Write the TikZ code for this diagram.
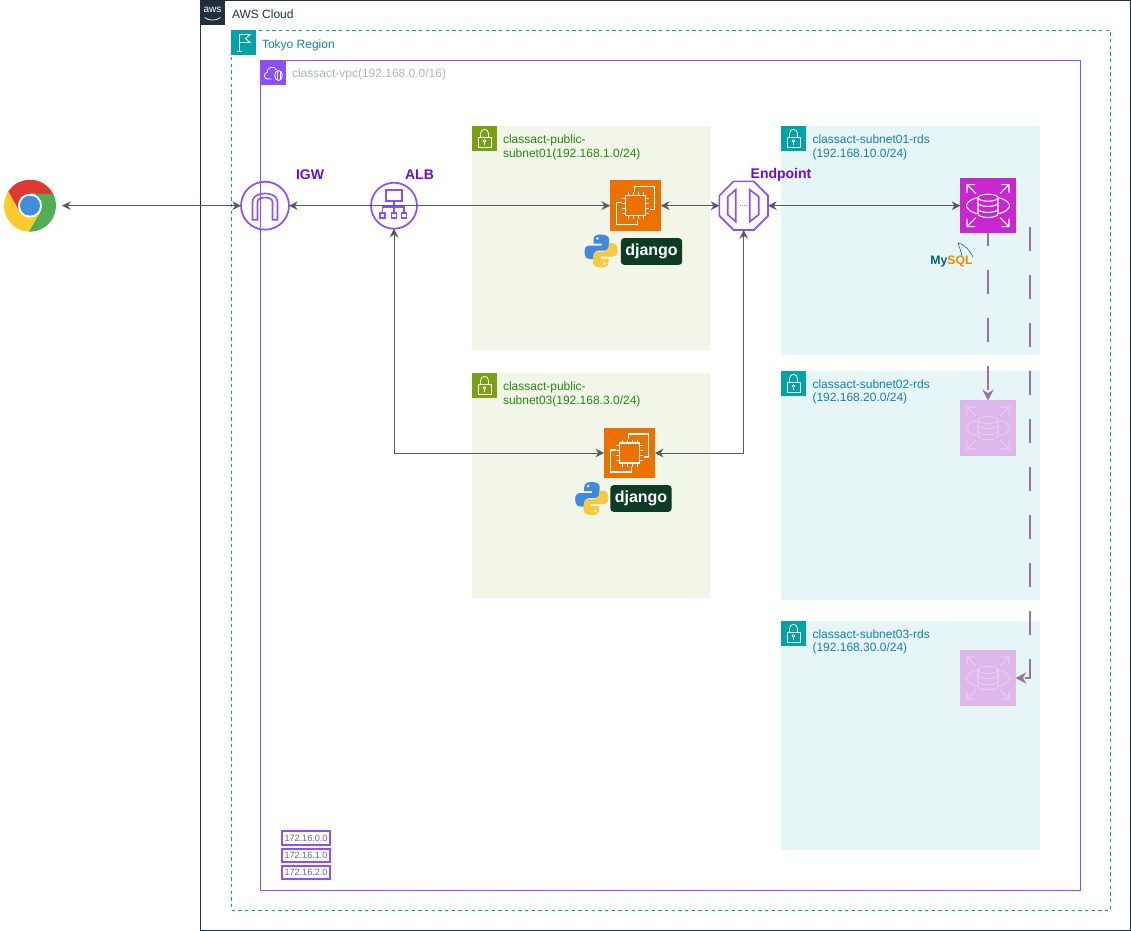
\documentclass[tikz,border=0pt]{standalone}
\usepackage{fontspec}
\setmainfont{Liberation Sans}
\usetikzlibrary{arrows.meta, shapes.geometric}

\definecolor{cloudink}{HTML}{232F3E}
\definecolor{regionteal}{HTML}{00A4A6}
\definecolor{regiontext}{HTML}{147EBA}
\definecolor{vpcpurple}{HTML}{8C4FFF}
\definecolor{vpctext}{HTML}{AAB7B8}
\definecolor{pubgreen}{HTML}{7AA116}
\definecolor{pubfill}{HTML}{F2F6E8}
\definecolor{pubtext}{HTML}{248814}
\definecolor{privfill}{HTML}{E6F6F7}
\definecolor{ecorange}{HTML}{ED7100}
\definecolor{rdspink}{HTML}{C925D1}
\definecolor{labelpurple}{HTML}{6A0DD6}
\definecolor{linkgray}{HTML}{545B64}
\definecolor{replpurple}{HTML}{9673A6}
\definecolor{djangogreen}{HTML}{0C3C26}
\definecolor{routetext}{HTML}{5F6A8A}
\definecolor{pyblue}{HTML}{3F8AE0}
\definecolor{pyyellow}{HTML}{F7C93E}
\definecolor{chromered}{HTML}{DB3A32}
\definecolor{chromegreen}{HTML}{52AE52}
\definecolor{chromeyellow}{HTML}{FBCB2E}
\definecolor{chromeblue}{HTML}{3F8FDB}
\definecolor{mysqlblue}{HTML}{00618A}
\definecolor{mysqlorange}{HTML}{E48E00}

\tikzset{
    plain/.style = {inner sep = 0pt, outer sep = 0pt},
    smalltext/.style = {plain, anchor = north west, align = left, font = \fontsize{9pt}{10.3pt}\selectfont},
    namelabel/.style = {plain, text = labelpurple, font = \fontsize{10.5pt}{12pt}\selectfont\bfseries},
    iconbox/.style = {plain, minimum size = 18.75pt},
    ecbox/.style = {plain, fill = ecorange, minimum size = 38pt},
    rdsbox/.style = {plain, fill = rdspink, minimum size = 41.5pt},
    subnetpub/.style = {fill = pubfill, draw = none},
    subnetpriv/.style = {fill = privfill, draw = none},
    roundicon/.style = {plain, circle, draw = vpcpurple, line width = 1.3pt},
    djangobox/.style = {plain, fill = djangogreen, rounded corners = 2.5pt, text = white, minimum width = 46pt, minimum height = 20pt, font = \fontsize{12pt}{12pt}\selectfont\bfseries},
    routebox/.style = {plain, draw = vpcpurple, line width = 1.4pt, text = routetext, minimum width = 36.5pt, minimum height = 10pt, font = \fontsize{6.8pt}{7pt}\selectfont},
    link/.style = {{Stealth[length = 6.5pt, width = 6.5pt]}-{Stealth[length = 6.5pt, width = 6.5pt]}, draw = linkgray, line width = 0.75pt},
    repl/.style = {-{Stealth[length = 8pt, width = 8.5pt]}, draw = replpurple, line width = 1.1pt, dash pattern = on 18pt off 18pt},
    % Icons, drawn around their centre
    lockicon/.pic = {
        \draw [white, line width = 0.6pt] (-6.5,-1.5) rectangle (6.5,8.5);
        \draw [white, line width = 0.6pt] (-4,-1.5) -- (-4,-5) .. controls (-4,-10.5) and (4,-10.5) .. (4,-5) -- (4,-1.5);
        \draw [white, line width = 0.5pt] (0,2.5) circle [radius = 1.4] (0,4) -- (0,6.5);
    },
    flagicon/.pic = {
        \draw [white, line width = 0.7pt] (-4.5,-8) -- (-4.5,9) (-7,9) -- (-2,9);
        \draw [white, line width = 0.7pt] (-4.5,-8) -- (6.5,-8) -- (2,-4) -- (6.5,0) -- (-4.5,0);
    },
    vpcicon/.pic = {
        \draw [white, line width = 0.6pt] (-2,6) -- (-6,6) .. controls (-10,6) and (-10,0) .. (-6.5,-0.5) .. controls (-6.5,-6) and (1,-8) .. (3,-3);
        \draw [white, line width = 0.6pt] (5,2.5) ellipse [x radius = 3.8, y radius = 5];
        \draw [white, line width = 0.5pt] (3.5,-2) -- (3.5,7) (6.5,-2) -- (6.5,7);
    },
    awsicon/.pic = {
        \node [plain, text = white, font = \fontsize{7.5pt}{7.5pt}\selectfont] (awsWord) at (0,-3) {aws};
        \draw [white, line width = 0.5pt] (-8,5) .. controls (-4,8.5) and (4,8.5) .. (8,5);
    },
    igwicon/.pic = {
        \draw [vpcpurple, line width = 1.2pt] (-12.5,14) -- (-12.5,-4) .. controls (-12.5,-15) and (12.5,-15) .. (12.5,-4) -- (12.5,14) -- (7.5,14) -- (7.5,-4) .. controls (7.5,-9.5) and (-7.5,-9.5) .. (-7.5,-4) -- (-7.5,14) -- cycle;
    },
    albicon/.pic = {
        \draw [vpcpurple, line width = 1.2pt] (-8,-16) rectangle (8,-5);
        \draw [vpcpurple, line width = 1.2pt] (0,-5) -- (0,7) (-11.5,7) -- (-11.5,1) -- (10,1) -- (10,7);
        \draw [vpcpurple, line width = 1.2pt] (-14,7) rectangle (-9,12.5) (-2.5,7) rectangle (2.5,12.5) (7.5,7) rectangle (12.5,12.5);
    },
    endpointicon/.pic = {
        \draw [vpcpurple, line width = 1.2pt] (-8,-16) -- (-8,16) -- (-16,9) -- (-16,-9) -- cycle;
        \draw [vpcpurple, line width = 1.2pt] (6,-16) -- (6,16) -- (15,9) -- (15,-9) -- cycle;
        \draw [vpcpurple!70, line width = 0.8pt, dash pattern = on 1pt off 0.6pt] (-4,0) -- (2.5,0);
    },
    chipicon/.pic = {
        \draw [white, line width = 0.9pt] (-1,-14) -- (-1,-19) -- (19,-19) -- (19,4) -- (14,4);
        \draw [white, line width = 0.9pt] (-14,-3) -- (-19,-3) -- (-19,19) -- (2,19) -- (2,14);
        \foreach \pin in {-7.5,-2.5,2.5,7.5} {
            \draw [white, line width = 0.6pt] (\pin,-13.5) -- (\pin,13.5) (-13.5,\pin) -- (13.5,\pin);
        }
        \draw [white, fill = ecorange, line width = 0.9pt] (-10,-10) rectangle (10,10);
    },
    dbicon/.pic = {
        \draw [white, line width = 0.8pt] (-21,-13) -- (-21,-21) -- (-13,-21) (-21,-21) -- (-12,-12);
        \draw [white, line width = 0.8pt] (21,-13) -- (21,-21) -- (13,-21) (21,-21) -- (12,-12);
        \draw [white, line width = 0.8pt] (-21,13) -- (-21,21) -- (-13,21) (-21,21) -- (-12,12);
        \draw [white, line width = 0.8pt] (21,13) -- (21,21) -- (13,21) (21,21) -- (12,12);
        \draw [white, line width = 0.8pt] (-11,-8) .. controls (-25,-4) and (-25,4) .. (-11,8);
        \draw [white, line width = 0.8pt] (11,-8) .. controls (25,-4) and (25,4) .. (11,8);
        \draw [white, line width = 0.8pt] (0,-8) ellipse [x radius = 10, y radius = 3.5];
        \draw [white, line width = 0.8pt] (-10,-8) -- (-10,8) .. controls (-10,13) and (10,13) .. (10,8) -- (10,-8);
        \draw [white, line width = 0.8pt] (-10,-3) .. controls (-10,2) and (10,2) .. (10,-3);
        \draw [white, line width = 0.8pt] (-10,3) .. controls (-10,8) and (10,8) .. (10,3);
    },
    pythonlogo/.pic = {
        \foreach \turn/\col in {0/pyblue, 180/pyyellow} {
            \begin{scope} [rotate = \turn]
                \fill [\col] (0,-16.5) .. controls (-5,-16.5) and (-7.5,-15) .. (-7.5,-11) -- (-7.5,-7.5) -- (0.5,-7.5) -- (0.5,-5.5) -- (-11,-5.5) .. controls (-15,-5.5) and (-16.5,-3) .. (-16.5,0.5) .. controls (-16.5,5) and (-15,8) .. (-11,8) -- (-7.5,8) -- (-7.5,4) .. controls (-7.5,1.5) and (-5,-0.5) .. (-3,-0.5) -- (4,-0.5) .. controls (6.5,-0.5) and (8,-3) .. (8,-5) -- (8,-12) .. controls (8,-15) and (4,-16.5) .. (0,-16.5) -- cycle;
                \fill [white] (-3.5,-12.5) circle [radius = 1.4];
            \end{scope}
        }
    },
    chromelogo/.pic = {
        \begin{scope} [yscale = -1]
            \foreach \turn/\col in {0/chromered, 120/chromegreen, 240/chromeyellow} {
                \fill [\col, rotate = \turn] (27:26) arc [start angle = 27, end angle = 147, radius = 26] -- (210:12) -- (90:12) -- cycle;
            }
            \fill [white] (0,0) circle [radius = 12];
            \fill [chromeblue] (0,0) circle [radius = 10];
        \end{scope}
    }
}

\begin{document}
\begin{tikzpicture}[x = 0.75pt, y = -0.75pt]
            \useasboundingbox (0,0) rectangle (1131,931);

            % Group frames
            \draw [cloudink, line width = 0.75pt] (200.5,0.5) rectangle (1130.5,930.5);
            \draw [regionteal, line width = 0.75pt, dash pattern = on 2.5pt off 2.5pt] (231,30.5) rectangle (1110.5,910);
            \draw [vpcpurple, line width = 0.75pt] (260.5,60.5) rectangle (1080.5,890.5);

            % Subnets
            \fill [subnetpub] (472,126) rectangle (710,350);
            \fill [subnetpub] (472,373) rectangle (710,598);
            \fill [subnetpriv] (781,126) rectangle (1040,355);
            \fill [subnetpriv] (781,371) rectangle (1040,600);
            \fill [subnetpriv] (781,621) rectangle (1040,850);

            % Group icons
            \node [iconbox, fill = cloudink] (cloudIcon) at (212.5,12.5) {};
            \pic at (cloudIcon) {awsicon};
            \node [iconbox, fill = regionteal] (regionIcon) at (243.5,42.5) {};
            \pic at (regionIcon) {flagicon};
            \node [iconbox, fill = vpcpurple] (vpcIcon) at (273.5,73) {};
            \pic at (vpcIcon) {vpcicon};
            \node [iconbox, fill = pubgreen] (lockPubOne) at (484.5,138.5) {};
            \pic at (lockPubOne) {lockicon};
            \node [iconbox, fill = pubgreen] (lockPubThree) at (484.5,385.5) {};
            \pic at (lockPubThree) {lockicon};
            \node [iconbox, fill = regionteal] (lockRdsOne) at (793.5,138.5) {};
            \pic at (lockRdsOne) {lockicon};
            \node [iconbox, fill = regionteal] (lockRdsTwo) at (793.5,383.5) {};
            \pic at (lockRdsTwo) {lockicon};
            \node [iconbox, fill = regionteal] (lockRdsThree) at (793.5,633.5) {};
            \pic at (lockRdsThree) {lockicon};

            % Group names
            \node [smalltext, text = cloudink] (cloudName) at (232,9.5) {AWS Cloud};
            \node [smalltext, text = regiontext] (regionName) at (262,39.5) {Tokyo Region};
            \node [smalltext, text = vpctext] (vpcName) at (292,69) {classact-vpc(192.168.0.0/16)};
            \node [smalltext, text = pubtext] (pubNameOne) at (503,135) {classact-public-\\subnet01(192.168.1.0/24)};
            \node [smalltext, text = pubtext] (pubNameThree) at (503,382) {classact-public-\\subnet03(192.168.3.0/24)};
            \node [smalltext, text = regiontext] (rdsNameOne) at (812.5,135) {classact-subnet01-rds\\(192.168.10.0/24)};
            \node [smalltext, text = regiontext] (rdsNameTwo) at (812.5,379.5) {classact-subnet02-rds\\(192.168.20.0/24)};
            \node [smalltext, text = regiontext] (rdsNameThree) at (812.5,629.5) {classact-subnet03-rds\\(192.168.30.0/24)};

            % Browser and gateways
            \node [plain, circle, minimum size = 48pt] (chrome) at (30,205.7) {};
            \pic at (30,205.7) {chromelogo};
            \node [roundicon, minimum size = 36pt] (igw) at (265,205.7) {};
            \pic at (igw) {igwicon};
            \node [roundicon, minimum size = 34.5pt] (alb) at (394,205.7) {};
            \pic at (alb) {albicon};
            \node [plain, draw = vpcpurple, line width = 1.3pt, regular polygon, regular polygon sides = 8, minimum size = 39.5pt] (endpoint) at (743.7,205.7) {};
            \pic at (endpoint) {endpointicon};
            \node [namelabel] (igwName) at (310,175) {IGW};
            \node [namelabel] (albName) at (419.5,175) {ALB};
            \node [namelabel] (endpointName) at (781,175) {Endpoint};

            % Application servers
            \node [ecbox] (ecOne) at (635.5,205.7) {};
            \pic at (ecOne) {chipicon};
            \node [ecbox] (ecThree) at (629.5,453) {};
            \pic at (ecThree) {chipicon};
            \pic at (601,251) {pythonlogo};
            \node [djangobox] (djangoOne) at (651.5,251.5) {django};
            \pic at (591.7,498.5) {pythonlogo};
            \node [djangobox] (djangoThree) at (641,498.5) {django};

            % Databases
            \node [rdsbox] (rdsOne) at (988,205.7) {};
            \pic at (rdsOne) {dbicon};
            \begin{scope} [opacity = 0.3]
                \node [rdsbox] (rdsTwo) at (988,428) {};
                \pic at (rdsTwo) {dbicon};
                \node [rdsbox] (rdsThree) at (988,678) {};
                \pic at (rdsThree) {dbicon};
            \end{scope}
            \node [plain, font = \fontsize{9.2pt}{10pt}\selectfont\bfseries] (mysql) at (951.5,261) {\textcolor{mysqlblue}{My}\textcolor{mysqlorange}{SQL}};
            \draw [mysqlblue, line width = 0.4pt] (973,257) .. controls (969,250) and (966,245) .. (958,243) .. controls (959,247) and (961,250) .. (962,256);

            % Route tables
            \node [routebox] (routeZero) at (306,838) {172.16.0.0};
            \node [routebox] (routeOne) at (306,855.5) {172.16.1.0};
            \node [routebox] (routeTwo) at (306,872.5) {172.16.2.0};

            % Connections
            \draw [link] (chrome) -- (igw);
            \draw [link] (igw) -- (ecOne);
            \draw [link] (ecOne) -- (endpoint);
            \draw [link] (endpoint) -- (rdsOne);
            \draw [link] (alb.south) |- (ecThree.west);
            \draw [link] (endpoint.south) |- (ecThree.east);

            % Replication
            \coordinate (replStart) at (1030,227);
            \draw [repl, dash phase = 8.25pt] (rdsOne.south) -- (rdsTwo.north);
            \draw [repl] (replStart) |- (rdsThree.east);

        \end{tikzpicture}
\end{document}
